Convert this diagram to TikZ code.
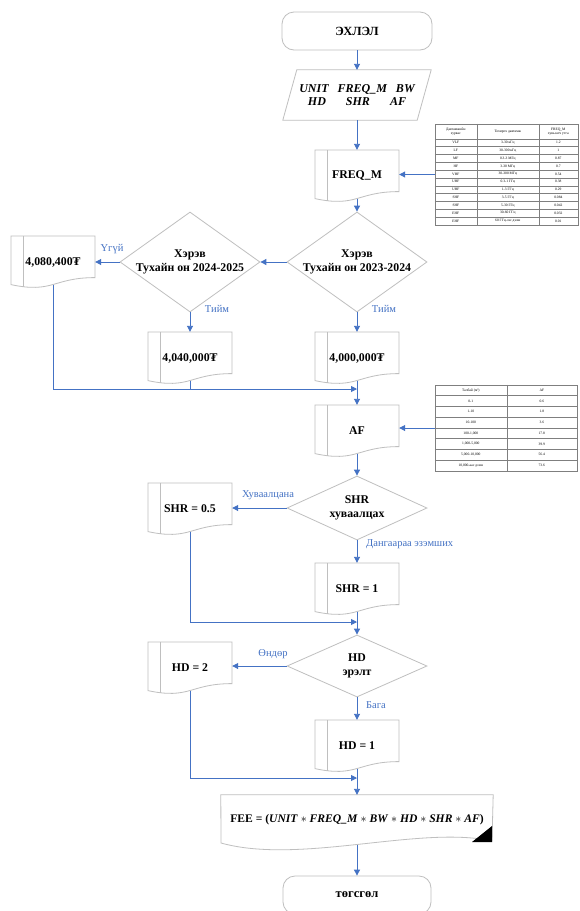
\documentclass[tikz,border=0pt]{standalone}
\usepackage{fontspec}
\setmainfont{Liberation Serif}
\usetikzlibrary{arrows.meta,shapes.geometric,calc}

\definecolor{flowblue}{HTML}{4472C4}
\definecolor{shapegray}{HTML}{BFBFBF}
\definecolor{rulegray}{HTML}{7F7F7F}

\tikzset{
  outline/.style={draw=shapegray, line width=0.8pt},
  conn/.style={draw=flowblue, line width=0.9pt, -{Triangle[width=6pt,length=6pt]}},
  link/.style={draw=flowblue, line width=0.9pt},
  boxtext/.style={font=\fontsize{11.8}{14}\selectfont\bfseries, align=center, inner sep=0pt},
  lbl/.style={font=\fontsize{10.5}{12}\selectfont, text=flowblue, inner sep=0pt},
  decision/.style={diamond, outline, inner sep=0pt, minimum width=140pt, minimum height=#1},
  terminal/.style={rectangle, rounded corners=12pt, outline, minimum width=150pt,
    minimum height=38pt, font=\fontsize{12.5}{14}\selectfont\bfseries},
  tablebox/.style={draw=rulegray, line width=0.4pt, inner sep=0pt},
  rule/.style={draw=rulegray, line width=0.3pt},
  tcell/.style={font=\fontsize{3.6}{4.2}\selectfont, align=center, inner sep=0pt},
  % document symbol with a left margin line and a wavy bottom
  docbox/.pic={
    \node[boxtext, minimum width=84pt, minimum height=52pt] (-n) at (0,0) {#1};
    \draw[outline] (-42,-26) -- (42,-26) -- (42,15.6)
      .. controls (0,15.6) and (0,31.7) .. (-42,22.6) -- cycle;
    \draw[outline] (-30,-26) -- (-30,24.6);
    \coordinate (-b) at (0,22.5);
  }
}

\begin{document}
\begin{tikzpicture}[x=1pt, y=-1pt]
\useasboundingbox (0,0) rectangle (579,911);
\fill[white] (0,0) rectangle (579,911);
\clip (0,0) rectangle (579,911);

% ---------- start and input ----------
\node[terminal] (start) at (357,31) {ЭХЛЭЛ};

\node[boxtext, font=\fontsize{12}{12.5}\selectfont\bfseries\itshape,
      minimum width=134pt, minimum height=50pt] (inp) at (357,95)
  {UNIT\hspace{9pt}FREQ\_M\hspace{9pt}BW\\HD\hspace{20pt}SHR\hspace{20pt}AF};
\draw[outline] ($(inp.north west)+(7,0)$) -- ($(inp.north east)+(7,0)$)
  -- ($(inp.south east)+(-7,0)$) -- ($(inp.south west)+(-7,0)$) -- cycle;

% ---------- frequency factor ----------
\pic (freqm) at (357,176) {docbox={FREQ\_M}};

\node[tablebox, minimum width=143pt, minimum height=101pt] (tfreq) at (506.5,174.5) {};
\begin{scope}[shift={(tfreq.north west)}]
  \foreach \c in {42,104} \draw[rule] (\c,0) -- (\c,101);
  \draw[rule] (0,15) -- (143,15);
  \foreach \k in {1,...,10} \draw[rule] (0,15+\k*7.818) -- (143,15+\k*7.818);
  \node[tcell] at (21,7.5) {Давтамжийн\\зурвас};
  \node[tcell] at (73,7.5) {Тохирох давтамж};
  \node[tcell] at (123.5,7.5) {FREQ\_M\\хувьсагч утга};
  \foreach \b/\f/\v [count=\i] in {VLF/3-30 кГц/1.2, LF/30-300 кГц/1, MF/0.3-3 МГц/0.87,
      HF/3-30 МГц/0.7, VHF/30-300 МГц/0.54, UHF/0.3-1 ГГц/0.38, UHF/1-3 ГГц/0.29,
      SHF/3-5 ГГц/0.084, SHF/5-30 ГГц/0.042, EHF/30-60 ГГц/0.032, EHF/60 ГГц-ээс дээш/0.01} {
    \node[tcell] at (21,15+\i*7.818-3.909) {\b};
    \node[tcell] at (73,15+\i*7.818-3.909) {\f};
    \node[tcell] at (123.5,15+\i*7.818-3.909) {\v};
  }
\end{scope}

% ---------- year decisions ----------
\node[decision=100pt] (d1) at (357,262) {};
\node[boxtext] (d1t) at (d1) {Хэрэв\\Тухайн он 2023-2024};
\node[decision=100pt] (d2) at (190,262) {};
\node[boxtext] (d2t) at (d2) {Хэрэв\\Тухайн он 2024-2025};

\pic (b4080) at (53,262) {docbox={4,080,400₮}};
\pic (b4040) at (190,358) {docbox={4,040,000₮}};
\pic (b4000) at (357,358) {docbox={4,000,000₮}};
\coordinate (m1) at (357,389);

\node[lbl] (lno) at (112,249) {Үгүй};
\node[lbl] (lyes2) at (217,309) {Тийм};
\node[lbl] (lyes1) at (384,309) {Тийм};

% ---------- area factor ----------
\pic (af) at (357,431) {docbox={AF}};

\node[tablebox, minimum width=142pt, minimum height=86pt] (taf) at (506,428) {};
\begin{scope}[shift={(taf.north west)}]
  \draw[rule] (72,0) -- (72,86);
  \foreach \k in {1,...,7} \draw[rule] (0,\k*10.75) -- (142,\k*10.75);
  \foreach \a/\v [count=\i from 0] in {Талбай (м²)/AF, 0-1/0.6, 1-10/1.8, 10-100/3.6,
      100-1{,}000/17.8, 1{,}000-5{,}000/39.9, 5{,}000-10{,}000/56.4, 10{,}000-аас дээш/73.6} {
    \node[tcell] at (36,\i*10.75+5.375) {\a};
    \node[tcell] at (107,\i*10.75+5.375) {\v};
  }
\end{scope}

% ---------- ownership share ----------
\node[decision=64pt] (dshr) at (357,508) {};
\node[boxtext] (dshrt) at (dshr) {SHR\\хуваалцах};
\pic (shrhalf) at (190,509) {docbox={SHR = 0.5}};
\pic (shrone) at (357,589) {docbox={SHR = 1}};
\coordinate (m2) at (357,622);
\node[lbl] (lshare) at (268,495) {Хуваалцана};
\node[lbl, anchor=west] (lsole) at (366,544) {Дангаараа эзэмших};

% ---------- demand ----------
\node[decision=62pt] (dhd) at (357,666) {};
\node[boxtext] (dhdt) at (dhd) {HD\\эрэлт};
\pic (hdtwo) at (190,668) {docbox={HD = 2}};
\pic (hdone) at (357,746) {docbox={HD = 1}};
\coordinate (m3) at (357,778);
\node[lbl] (lhigh) at (273,654) {Өндөр};
\node[lbl, anchor=west] (llow) at (366,705) {Бага};

% ---------- fee and end ----------
\node[boxtext, font=\fontsize{11.6}{13}\selectfont\bfseries,
      minimum width=272pt, minimum height=50pt] (fee) at (357,820)
  {\raisebox{4pt}{FEE = (\textit{UNIT} $\ast$ \textit{FREQ\_M} $\ast$ \textit{BW} $\ast$
   \textit{HD} $\ast$ \textit{SHR} $\ast$ \textit{AF})}};
\draw[outline] (fee.north west) -- (fee.north east) -- (492,841)
  .. controls (420,825) and (300,865) .. (221,843) -- cycle;
\fill[black] (492,826) -- (492,842) -- (472,842) -- cycle;

\node[terminal, minimum width=148pt] (stop) at (357,895) {төгсгөл};

% ---------- connectors ----------
\draw[conn] (start) -- (inp);
\draw[conn] (inp) -- (freqm-n.north);
\draw[conn] (tfreq.west) -- (tfreq.west -| freqm-n.east);
\draw[conn] (freqm-b) -- (d1.north);
\draw[conn] (d1.west) -- (d2.east);
\draw[conn] (d2.west) -- (b4080-n.east);
\draw[conn] (d2.south) -- (b4040-n.north);
\draw[conn] (d1.south) -- (b4000-n.north);
\draw[conn] (b4080-b) |- (m1);
\draw[link] (b4040-b) -- (b4040-b |- m1);
\draw[conn] (b4000-b) -- (af-n.north);
\draw[conn] (taf.west) -- (taf.west -| af-n.east);
\draw[conn] (af-b) -- (dshr.north);
\draw[conn] (dshr.west) -- (dshr.west -| shrhalf-n.east);
\draw[conn] (dshr.south) -- (shrone-n.north);
\draw[conn] (shrhalf-b) |- (m2);
\draw[conn] (shrone-b) -- (dhd.north);
\draw[conn] (dhd.west) -- (dhd.west -| hdtwo-n.east);
\draw[conn] (dhd.south) -- (hdone-n.north);
\draw[conn] (hdtwo-b) |- (m3);
\draw[conn] (hdone-b) -- (fee.north);
\draw[conn] (fee.south) -- (stop.north);
\end{tikzpicture}
\end{document}
